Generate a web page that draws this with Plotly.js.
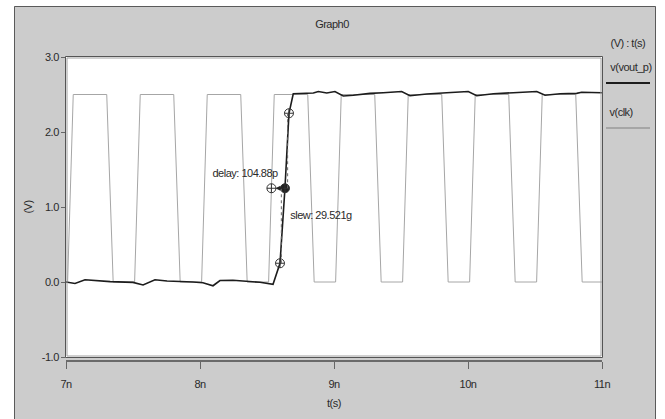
<!DOCTYPE html>
<html>
<head>
<meta charset="utf-8">
<script src="https://cdn.plot.ly/plotly-3.0.1.min.js"></script>
<style>
  html, body { margin: 0; padding: 0; background: #ffffff; }
  #chart { width: 665px; height: 419px; }
  #chart text { letter-spacing: -0.5px; }
</style>
</head>
<body>
<div id="chart"></div>
<script>
// ---- data (time in ns, voltage in V) ----
var xTickVals = [7, 8, 9, 10, 11];
var xTickText = ['7n', '8n', '9n', '10n', '11n'];
var yTickVals = [-1, 0, 1, 2, 3];
var yTickText = ['-1.0', '0.0', '1.0', '2.0', '3.0'];

var clkTime = [7.0, 7.012, 7.054, 7.304, 7.352, 7.512, 7.554, 7.804, 7.852,
               8.012, 8.054, 8.304, 8.352, 8.512, 8.554, 8.804, 8.852,
               9.012, 9.054, 9.304, 9.352, 9.512, 9.554, 9.804, 9.852,
               10.012, 10.054, 10.304, 10.352, 10.512, 10.554, 10.804, 10.852, 11.0];
var clkVolt = [0, 0, 2.5, 2.5, 0, 0, 2.5, 2.5, 0,
               0, 2.5, 2.5, 0, 0, 2.5, 2.5, 0,
               0, 2.5, 2.5, 0, 0, 2.5, 2.5, 0,
               0, 2.5, 2.5, 0, 0, 2.5, 2.5, 0, 0];

var voutTime = [7.0, 7.067, 7.142, 7.20, 7.33, 7.50, 7.575, 7.664, 7.754, 7.948,
                8.022, 8.097, 8.149, 8.246, 8.448, 8.545, 8.597, 8.634, 8.664, 8.696,
                8.846, 8.883, 8.946, 9.007, 9.069, 9.144, 9.269, 9.368, 9.505, 9.567,
                9.692, 9.841, 10.002, 10.065, 10.189, 10.338, 10.513, 10.575, 10.687,
                10.811, 10.848, 11.0];
var voutVolt = [0.0, -0.02, 0.03, 0.02, 0.005, -0.005, -0.04, 0.03, 0.013, 0.0,
                -0.01, -0.05, 0.02, 0.023, -0.004, -0.03, 0.25, 1.25, 2.25, 2.51,
                2.52, 2.54, 2.52, 2.54, 2.48, 2.49, 2.515, 2.524, 2.54, 2.484,
                2.507, 2.524, 2.54, 2.484, 2.51, 2.524, 2.54, 2.49, 2.51,
                2.515, 2.53, 2.524];

// measurement cursors: clk 50%, vout 50%, vout 10%, vout 90%
var measTime = [8.533, 8.634, 8.597, 8.664];
var measVolt = [1.25, 1.25, 0.25, 2.25];
var delayLabel = 'delay: 104.88p';
var slewLabel = 'slew: 29.521g';

var FONT = '"Liberation Sans Narrow", "Arial Narrow", "Liberation Sans", Arial, sans-serif';
var FS = 11;
var TXT = '#2a2a2a';

var traces = [
  { x: clkTime, y: clkVolt, type: 'scatter', mode: 'lines', name: 'v(clk)',
    line: { color: '#a6a6a6', width: 1 }, hoverinfo: 'skip' },
  { x: voutTime, y: voutVolt, type: 'scatter', mode: 'lines', name: 'v(vout_p)',
    line: { color: '#1c1c1c', width: 1.6 }, hoverinfo: 'skip' },
  { x: measTime, y: measVolt, type: 'scatter', mode: 'markers', name: 'cursors',
    marker: { symbol: ['circle-cross-open', 'circle-cross', 'circle-cross-open', 'circle-cross-open'],
              size: 9, color: ['#333', '#222', '#333', '#333'],
              line: { color: '#333', width: 1 } }, hoverinfo: 'skip' }
];

// pixel -> paper helpers (plot area: x 66..602, paper y from 361 (0) to 57 (1))
function px(p) { return (p - 66) / 536; }
function py(p) { return (361 - p) / 304; }

var shapes = [
  { type: 'rect', xref: 'paper', yref: 'paper', x0: px(-2), x1: px(14), y0: py(425), y1: py(-2),
    fillcolor: '#ffffff', line: { width: 0 }, layer: 'below' },
  { type: 'rect', xref: 'paper', yref: 'paper', x0: px(656), x1: px(668), y0: py(425), y1: py(-2),
    fillcolor: '#ffffff', line: { width: 0 }, layer: 'below' },
  { type: 'rect', xref: 'paper', yref: 'paper', x0: px(-2), x1: px(668), y0: py(6), y1: py(-2),
    fillcolor: '#ffffff', line: { width: 0 }, layer: 'below' },
  { type: 'rect', xref: 'paper', yref: 'paper', x0: px(14.5), x1: px(655.5), y0: py(425), y1: py(6.5),
    line: { color: '#5a5a5a', width: 1 }, layer: 'below' },
  { type: 'rect', xref: 'paper', yref: 'paper', x0: px(65.5), x1: px(602.5), y0: py(357.5), y1: py(56.5),
    line: { color: '#555555', width: 1 } },
  { type: 'rect', xref: 'paper', yref: 'paper', x0: px(67), x1: px(601), y0: py(356), y1: py(58),
    line: { color: '#a0a0a0', width: 1 } },
  { type: 'line', xref: 'paper', yref: 'paper', x0: px(606), x1: px(650), y0: py(83), y1: py(83),
    line: { color: '#1c1c1c', width: 2 } },
  { type: 'line', xref: 'paper', yref: 'paper', x0: px(606), x1: px(650), y0: py(128), y1: py(128),
    line: { color: '#9a9a9a', width: 1.5 } },
  { type: 'line', xref: 'x', yref: 'y', x0: measTime[2] + 0.01, x1: measTime[2] + 0.01,
    y0: measVolt[2], y1: measVolt[1], line: { color: '#666', width: 1, dash: 'dot' } },
  { type: 'line', xref: 'x', yref: 'y', x0: measTime[3] - 0.01, x1: measTime[3] - 0.01,
    y0: measVolt[1], y1: measVolt[3], line: { color: '#666', width: 1, dash: 'dot' } }
];

var annotations = [
  { xref: 'paper', yref: 'paper', x: px(606), y: py(43), xanchor: 'left', yanchor: 'middle',
    text: '(V) : t(s)', showarrow: false, font: { family: FONT, size: FS, color: TXT } },
  { xref: 'paper', yref: 'paper', x: px(606), y: py(67), xanchor: 'left', yanchor: 'middle',
    text: 'v(vout_p)', showarrow: false, font: { family: FONT, size: FS, color: TXT } },
  { xref: 'paper', yref: 'paper', x: px(606), y: py(112), xanchor: 'left', yanchor: 'middle',
    text: 'v(clk)', showarrow: false, font: { family: FONT, size: FS, color: TXT } },
  { xref: 'x', yref: 'y', x: measTime[0], y: measVolt[0], axref: 'x', ayref: 'y',
    ax: measTime[1], ay: measVolt[1], text: '', showarrow: true, arrowhead: 2,
    arrowsize: 1, arrowwidth: 1, arrowcolor: '#222', standoff: 4, startstandoff: 0 },
  { xref: 'x', yref: 'y', x: measTime[0] + 0.09, y: measVolt[0] + 0.2, xanchor: 'right', yanchor: 'middle',
    text: delayLabel, showarrow: false, font: { family: FONT, size: FS, color: TXT } },
  { xref: 'x', yref: 'y', x: measTime[1] - 0.0, y: measVolt[1] - 0.36, xanchor: 'left', yanchor: 'middle',
    text: slewLabel, showarrow: false, font: { family: FONT, size: FS, color: TXT } }
];

var layout = {
  width: 665, height: 419, autosize: false,
  margin: { l: 66, r: 63, t: 57, b: 58, pad: 0 },
  paper_bgcolor: '#cccccc', plot_bgcolor: '#ffffff',
  showlegend: false,
  font: { family: FONT, size: FS, color: TXT },
  title: { text: 'Graph0', xref: 'paper', x: px(332), xanchor: 'center',
           yref: 'container', y: 1 - 24 / 419, yanchor: 'middle',
           font: { family: FONT, size: FS, color: TXT } },
  xaxis: {
    range: [7, 11], anchor: 'free', position: 0,
    showline: true, linecolor: '#6a6a6a', linewidth: 2,
    ticks: 'outside', ticklen: 7, tickwidth: 1, tickcolor: '#666',
    tickvals: xTickVals, ticktext: xTickText, ticklabelstandoff: 6,
    showgrid: false, zeroline: false, fixedrange: true,
    tickfont: { family: FONT, size: FS, color: TXT },
    title: { text: 't(s)', standoff: 9, font: { family: FONT, size: FS, color: TXT } }
  },
  yaxis: {
    range: [-1, 3], domain: [py(357), 1],
    showline: false, ticks: 'outside', ticklen: 4, tickwidth: 1, tickcolor: '#666',
    tickvals: yTickVals, ticktext: yTickText,
    showgrid: false, zeroline: false, fixedrange: true,
    tickfont: { family: FONT, size: FS, color: TXT },
    title: { text: '(V)', standoff: 4, font: { family: FONT, size: FS, color: TXT } }
  },
  shapes: shapes,
  annotations: annotations
};

Plotly.newPlot('chart', traces, layout, { staticPlot: true, displayModeBar: false });
</script>
</body>
</html>
